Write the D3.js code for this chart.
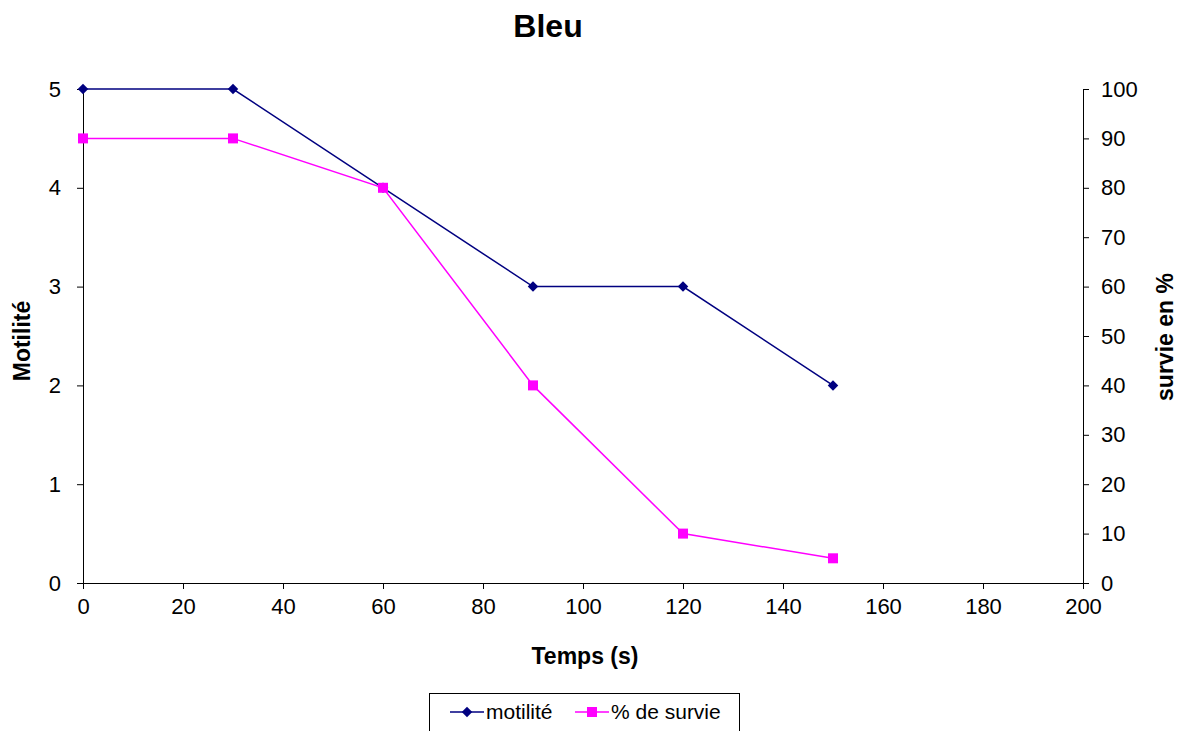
<!DOCTYPE html>
<html lang="fr">
<head>
  <meta charset="UTF-8">
  <title>Bleu</title>
  <style>
    body { margin: 0; background: #fff; font-family: 'Liberation Sans', Arial, sans-serif; }
    svg { display: block; }
  </style>
</head>
<body>
  <svg id="chart" width="1185" height="731"></svg>
  <script src="https://d3js.org/d3.v7.min.js"></script>
  <script>
    // data
    const temps = [0, 30, 60, 90, 120, 150];
    const motilite = [5, 5, 4, 3, 3, 2];
    const survie = [90, 90, 80, 40, 10, 5];
    const xTicks = [0, 20, 40, 60, 80, 100, 120, 140, 160, 180, 200];
    const leftTicks = [0, 1, 2, 3, 4, 5];
    const rightTicks = [0, 10, 20, 30, 40, 50, 60, 70, 80, 90, 100];

    const svg = d3.select('#chart');
    const plot = { left: 83, right: 1083, top: 89, bottom: 583 };

    const x = d3.scaleLinear().domain([0, 200]).range([plot.left, plot.right]);
    const yL = d3.scaleLinear().domain([0, 5]).range([plot.bottom, plot.top]);
    const yR = d3.scaleLinear().domain([0, 100]).range([plot.bottom, plot.top]);

    const styleAxis = g => {
      g.selectAll('path').attr('stroke', '#000');
      g.selectAll('line').attr('stroke', '#000');
      g.selectAll('text').attr('font-size', 22).attr('fill', '#000')
        .attr('font-family', "'Liberation Sans', Arial, sans-serif");
    };

    svg.append('g')
      .attr('transform', `translate(0,${plot.bottom})`)
      .call(d3.axisBottom(x).tickValues(xTicks).tickFormat(d3.format('d')).tickSize(6).tickSizeOuter(0).tickPadding(9))
      .call(styleAxis);

    svg.append('g')
      .attr('transform', `translate(${plot.left},0)`)
      .call(d3.axisLeft(yL).tickValues(leftTicks).tickFormat(d3.format('d')).tickSize(6).tickSizeOuter(0).tickPadding(16))
      .call(styleAxis);

    svg.append('g')
      .attr('transform', `translate(${plot.right},0)`)
      .call(d3.axisRight(yR).tickValues(rightTicks).tickFormat(d3.format('d')).tickSize(6).tickSizeOuter(0).tickPadding(12))
      .call(styleAxis);

    // title and axis labels
    svg.append('text').attr('x', 548).attr('y', 37).attr('text-anchor', 'middle')
      .attr('font-size', 32).attr('font-weight', 'bold').text('Bleu');
    svg.append('text').attr('x', (plot.left + plot.right) / 2 + 2).attr('y', 664).attr('text-anchor', 'middle')
      .attr('font-size', 23).attr('font-weight', 'bold').text('Temps (s)');
    svg.append('text').attr('transform', `translate(30,341) rotate(-90)`).attr('text-anchor', 'middle')
      .attr('font-size', 23).attr('font-weight', 'bold').text('Motilité');
    svg.append('text').attr('transform', `translate(1173,337) rotate(-90)`).attr('text-anchor', 'middle')
      .attr('font-size', 23).attr('font-weight', 'bold').text('survie en %');

    const blue = '#000080', pink = '#ff00ff';

    const lineL = d3.line().x((d, i) => x(temps[i])).y(d => yL(d));
    const lineR = d3.line().x((d, i) => x(temps[i])).y(d => yR(d));

    svg.append('path').datum(motilite).attr('d', lineL)
      .attr('fill', 'none').attr('stroke', blue).attr('stroke-width', 1.5);
    svg.append('path').datum(survie).attr('d', lineR)
      .attr('fill', 'none').attr('stroke', pink).attr('stroke-width', 1.5);

    const diamond = d3.symbol().type(d3.symbolDiamond2).size(70);

    svg.selectAll('.mk-m').data(motilite).enter().append('path')
      .attr('class', 'mk-m')
      .attr('transform', (d, i) => `translate(${x(temps[i])},${yL(d)})`)
      .attr('d', diamond).attr('fill', blue);

    svg.selectAll('.mk-s').data(survie).enter().append('rect')
      .attr('class', 'mk-s')
      .attr('x', (d, i) => x(temps[i]) - 5).attr('y', d => yR(d) - 5)
      .attr('width', 10).attr('height', 10).attr('fill', pink);

    // legend
    const lg = svg.append('g');
    lg.append('rect').attr('x', 429.5).attr('y', 693.5).attr('width', 310).attr('height', 40)
      .attr('fill', '#fff').attr('stroke', '#000').attr('stroke-width', 1);
    const legendItems = [
      { label: 'motilité', color: blue, shape: 'diamond', x: 450 },
      { label: '% de survie', color: pink, shape: 'square', x: 575 }
    ];
    legendItems.forEach(it => {
      const cy = 712;
      lg.append('line').attr('x1', it.x).attr('x2', it.x + 34).attr('y1', cy).attr('y2', cy)
        .attr('stroke', it.color).attr('stroke-width', 1.5);
      if (it.shape === 'diamond') {
        lg.append('path').attr('transform', `translate(${it.x + 17},${cy})`).attr('d', diamond).attr('fill', it.color);
      } else {
        lg.append('rect').attr('x', it.x + 12).attr('y', cy - 5).attr('width', 10).attr('height', 10).attr('fill', it.color);
      }
      lg.append('text').attr('x', it.x + 36).attr('y', cy + 7).attr('font-size', 21).text(it.label);
    });
  </script>
</body>
</html>
